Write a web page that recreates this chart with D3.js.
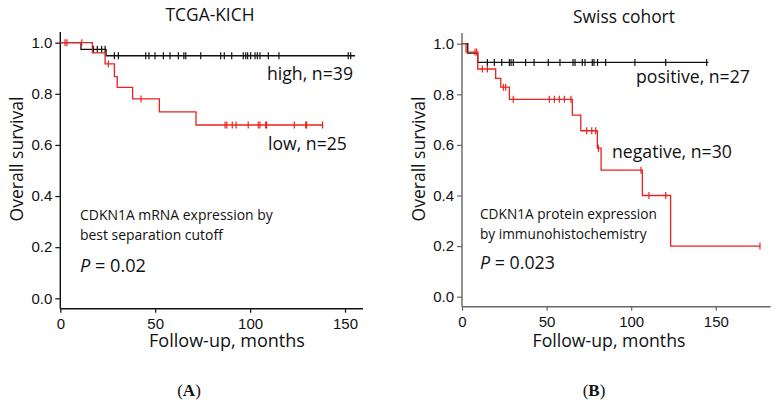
<!DOCTYPE html>
<html><head><meta charset="utf-8">
<script src="https://cdn.jsdelivr.net/npm/d3@7"></script>
<style>
html,body{margin:0;padding:0;background:#fff;}
svg{display:block;}
</style></head>
<body>
<svg id="chart" width="775" height="410"></svg>
<script>
// ---------- Data ----------
const xTicks = [0, 50, 100, 150];
const yTicks = [0.0, 0.2, 0.4, 0.6, 0.8, 1.0];

// Panel A: TCGA-KICH
const aTitle = "TCGA-KICH";
const aHighEventTimes = [10.9, 24.1];
const aHighEventSurv  = [0.974, 0.949];
const aHighCensor = [17.4, 19.5, 21.8, 23.6, 28.5, 30.6, 45, 46.7, 49.9, 54.3, 57.8, 62.2, 65.1, 66.1, 74, 84.5, 86.4, 90.3, 96.4, 97.7, 98.7, 100.3, 102.6, 103.8, 105.2, 109.6, 115.2, 151.7, 153];
const aHighEnd = 155.3;
const aLowEventTimes = [16.9, 23.6, 28.5, 30, 38.1, 52.2, 71.5];
const aLowEventSurv  = [0.96, 0.917, 0.867, 0.825, 0.78, 0.729, 0.678];
const aLowCensor = [2.5, 3.5, 11.3, 25.3, 42.5, 86.8, 87.7, 90.6, 92.6, 99, 104.3, 105.2, 108.2, 108.7, 123.3, 129.3, 129.8, 138.2];
const aLowEnd = 138.2;
const aHighLabel = "high, n=39";
const aLowLabel = "low, n=25";
const aNote = ["CDKN1A mRNA expression by", "best separation cutoff"];
const aP = "0.02";

// Panel B: Swiss cohort
const bTitle = "Swiss cohort";
const bPosEventTimes = [3.4, 9.3];
const bPosEventSurv  = [0.963, 0.926];
const bPosCensor = [15, 19.1, 23.5, 28, 29, 30.3, 37.6, 42.6, 51, 57.9, 65.6, 66.8, 71.1, 72.7, 77, 78, 80.1, 84.9, 102.2, 120.4, 144.6];
const bPosEnd = 145.6;
const bNegEventTimes = [2.4, 9.3, 19.9, 22.9, 28, 65.2, 70.2, 80, 82.2, 106.6, 123.3];
const bNegEventSurv  = [0.967, 0.9, 0.863, 0.828, 0.78, 0.718, 0.656, 0.587, 0.5, 0.4, 0.2];
const bNegCensor = [7.7, 8.7, 12, 15, 24.4, 25.8, 30.3, 51.6, 54.6, 57.5, 60.5, 64.4, 73.7, 76.7, 79, 80.6, 105.8, 110.5, 120.4, 176.1];
const bNegEnd = 176.1;
const bPosLabel = "positive, n=27";
const bNegLabel = "negative, n=30";
const bNote = ["CDKN1A protein expression", "by immunohistochemistry"];
const bP = "0.023";

const xLabel = "Follow-up, months";
const yLabel = "Overall survival";

// ---------- Drawing ----------
const svg = d3.select("#chart");
const RED = "#e8231f";
const labelFont = "'Open Sans', 'Noto Sans', sans-serif";
const tickFont = "'Liberation Sans', Arial, sans-serif";

// scale a text's font size so it spans the given pixel width
function fit(sel, width, base) {
  sel.attr("font-size", base);
  const w = sel.node().getComputedTextLength();
  const fs = base * width / w;
  sel.attr("font-size", fs);
  return fs;
}

function survAt(times, surv, t) {
  let s = 1;
  for (let i = 0; i < times.length; i++) if (times[i] <= t) s = surv[i];
  return s;
}

function drawCurve(g, x, y, times, surv, censor, end, color) {
  const pts = [[0, 1]];
  times.forEach((t, i) => pts.push([t, surv[i]]));
  pts.push([end, surv[surv.length - 1]]);
  g.append("path")
    .attr("d", d3.line().x(d => x(d[0])).y(d => y(d[1])).curve(d3.curveStepAfter)(pts))
    .attr("fill", "none").attr("stroke", color).attr("stroke-width", 1.3);
  g.selectAll(null).data(censor).enter().append("line")
    .attr("x1", d => x(d)).attr("x2", d => x(d))
    .attr("y1", d => y(survAt(times, surv, d)) - 3.5)
    .attr("y2", d => y(survAt(times, surv, d)) + 3.5)
    .attr("stroke", color).attr("stroke-width", 1.2);
}

function txt(g, x, y, s, anchor) {
  return g.append("text").attr("x", x).attr("y", y).attr("text-anchor", anchor || "start")
    .attr("font-family", labelFont).attr("fill", "#111").text(s);
}

function panel(cfg) {
  const g = svg.append("g");
  const x = d3.scaleLinear().domain([0, 50]).range([cfg.x0, cfg.x50]);
  const y = d3.scaleLinear().domain([0, 1]).range([cfg.y0, cfg.y1]);
  const xMax = x.invert(cfg.xEnd);

  const axisCol = cfg.axisColor;
  const yAx = g.append("g").attr("transform", `translate(${cfg.x0},0)`)
    .call(d3.axisLeft(y).tickValues(yTicks).tickFormat(d3.format(".1f")).tickSize(5).tickPadding(3));
  yAx.select(".domain").remove();
  g.append("line").attr("x1", cfg.x0).attr("x2", cfg.x0).attr("y1", cfg.yTop).attr("y2", cfg.xAxisY)
    .attr("stroke", axisCol).attr("stroke-width", 1.4);

  const xs = d3.scaleLinear().domain([0, xMax]).range([cfg.x0, cfg.xEnd]);
  const xAx = g.append("g").attr("transform", `translate(0,${cfg.xAxisY})`)
    .call(d3.axisBottom(xs).tickValues(xTicks).tickSize(4).tickPadding(6));
  xAx.select(".domain").remove();
  g.append("line").attr("x1", cfg.x0).attr("x2", cfg.xEnd).attr("y1", cfg.xAxisY).attr("y2", cfg.xAxisY)
    .attr("stroke", axisCol).attr("stroke-width", 1.4);

  [yAx, xAx].forEach(a => {
    a.selectAll("line").attr("stroke", axisCol).attr("stroke-width", 1.2);
    a.selectAll("text").attr("font-family", tickFont).attr("font-size", 15).attr("fill", "#111");
  });

  drawCurve(g, x, y, cfg.t1, cfg.s1, cfg.c1, cfg.e1, "#111");
  drawCurve(g, x, y, cfg.t2, cfg.s2, cfg.c2, cfg.e2, RED);

  fit(txt(g, cfg.titleX, cfg.titleY, cfg.title, "middle"), cfg.titleW, 17);
  fit(txt(g, cfg.xLabelX, 346.7, xLabel, "middle"), cfg.xLabelW, 17);
  const yl = g.append("text").attr("transform", `translate(${cfg.yLabelX},159) rotate(-90)`).attr("text-anchor", "middle")
    .attr("font-family", labelFont).attr("fill", "#111").text(yLabel);
  fit(yl, 125, 17);

  fit(txt(g, cfg.l1x, cfg.l1y, cfg.l1), cfg.l1w, 17);
  fit(txt(g, cfg.l2x, cfg.l2y, cfg.l2), cfg.l2w, 17);

  const n0 = txt(g, cfg.noteX, cfg.noteY, cfg.note[0]);
  const nfs = fit(n0, cfg.noteW, 13);
  txt(g, cfg.noteX, cfg.noteY + 20, cfg.note[1]).attr("font-size", nfs);

  const pt = txt(g, cfg.noteX, cfg.pY, "");
  pt.append("tspan").attr("font-style", "italic").text("P");
  pt.append("tspan").text(" = " + cfg.p);
  fit(pt, cfg.pW, 17);

  const lt = g.append("text").attr("x", cfg.letterX).attr("y", 396).attr("text-anchor", "middle")
    .attr("font-family", "'Liberation Serif', 'Times New Roman', serif").attr("font-size", 17).attr("fill", "#111");
  lt.append("tspan").text("(");
  lt.append("tspan").attr("font-weight", "bold").text(cfg.letter);
  lt.append("tspan").text(")");
}

panel({
  x0: 60.3, x50: 155.2, y0: 298.3, y1: 42.7, xEnd: 363, yTop: 32, xAxisY: 308.7, axisColor: "#111",
  t1: aHighEventTimes, s1: aHighEventSurv, c1: aHighCensor, e1: aHighEnd,
  t2: aLowEventTimes, s2: aLowEventSurv, c2: aLowCensor, e2: aLowEnd,
  title: aTitle, titleX: 210, titleY: 20.7, titleW: 89, xLabelX: 227, xLabelW: 156, yLabelX: 23,
  l1: aHighLabel, l1x: 267, l1y: 80, l1w: 86, l2: aLowLabel, l2x: 268, l2y: 150, l2w: 79,
  note: aNote, noteX: 80, noteY: 220, noteW: 193, pY: 271.7, pW: 66, p: aP, letter: "A", letterX: 189
});
panel({
  x0: 462, x50: 546.6, y0: 296.7, y1: 43.7, xEnd: 770.7, yTop: 33, xAxisY: 306.7, axisColor: "#666",
  t1: bPosEventTimes, s1: bPosEventSurv, c1: bPosCensor, e1: bPosEnd,
  t2: bNegEventTimes, s2: bNegEventSurv, c2: bNegCensor, e2: bNegEnd,
  title: bTitle, titleX: 624, titleY: 23, titleW: 102, xLabelX: 609, xLabelW: 153, yLabelX: 425,
  l1: bPosLabel, l1x: 636, l1y: 83, l1w: 114, l2: bNegLabel, l2x: 612, l2y: 158, l2w: 120,
  note: bNote, noteX: 480, noteY: 219.3, noteW: 177, pY: 269.3, pW: 75, p: bP, letter: "B", letterX: 594
});
</script>
</body></html>
